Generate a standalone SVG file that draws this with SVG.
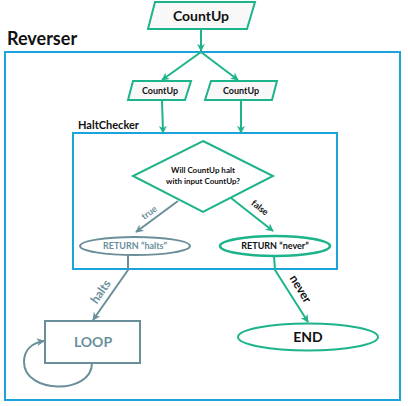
<svg xmlns="http://www.w3.org/2000/svg" width="408" height="406" viewBox="0 0 408 406">
<style>
text{font-family:Lato,"Open Sans","Liberation Sans",sans-serif;}
.box{fill:none;stroke:#1ba3dc;stroke-width:2;}
.para{fill:#f8f8f8;stroke:#1db38b;stroke-width:2;}
.g{fill:none;stroke:#1db38b;stroke-width:2;}
.s{fill:none;stroke:#6a8f9b;stroke-width:2;}
.lbl{font-weight:bold;fill:#111;}
</style>
<defs>
<marker id="as" viewBox="0 0 10 10" refX="9" refY="5" markerWidth="8" markerHeight="8" orient="auto" markerUnits="userSpaceOnUse">
<path d="M0,0 L10,5 L0,10 L3,5 z" fill="#6a8f9b"/>
</marker>
<marker id="agm" viewBox="0 0 10 10" refX="9" refY="5" markerWidth="8" markerHeight="8" orient="auto" markerUnits="userSpaceOnUse">
<path d="M0,0 L10,5 L0,10 L3,5 z" fill="#1db38b"/>
</marker>
</defs>
<g id="reverser">
<rect class="box" x="5" y="52" width="395" height="348"/>
<text x="7" y="45" font-size="18" class="lbl">Reverser</text>
</g>
<g id="haltchecker">
<rect class="box" x="73" y="133" width="264" height="136"/>
<text x="78" y="129" font-size="11" class="lbl">HaltChecker</text>
</g>
<g id="input">
<polygon class="para" points="155,2 255,2 247,29 148,29"/>
<text x="201" y="21" font-size="14" class="lbl" text-anchor="middle">CountUp</text>
</g>
<g id="countup1">
<polygon class="para" points="133,81 191,81 185,100 128,100"/>
<text x="160" y="94" font-size="9" class="lbl" text-anchor="middle">CountUp</text>
</g>
<g id="countup2">
<polygon class="para" points="211,81 277,81 272,100 205,100"/>
<text x="241" y="94" font-size="9" class="lbl" text-anchor="middle">CountUp</text>
</g>
<g id="decision">
<polygon fill="#fff" stroke="#1db38b" stroke-width="2" points="203,141 273,176 203,212 133,176"/>
<text x="203" y="173" font-size="8" class="lbl" text-anchor="middle">Will CountUp halt</text>
<text x="203" y="184" font-size="8" class="lbl" text-anchor="middle">with input CountUp?</text>
</g>
<g id="halts">
<ellipse cx="135" cy="246" rx="55" ry="9" fill="#fff" stroke="#6a8f9b" stroke-width="2"/>
<text x="135" y="249" font-size="9" font-weight="bold" fill="#6a8f9b" text-anchor="middle">RETURN “halts”</text>
</g>
<g id="never">
<ellipse cx="275" cy="246" rx="55" ry="10" fill="#fff" stroke="#1db38b" stroke-width="2.5"/>
<text x="275" y="249" font-size="9" class="lbl" text-anchor="middle">RETURN “never”</text>
</g>
<g id="loop">
<rect x="45" y="321" width="95" height="42" fill="#fff" stroke="#6a8f9b" stroke-width="2"/>
<text x="93" y="347" font-size="14" font-weight="bold" fill="#6a8f9b" text-anchor="middle">LOOP</text>
</g>
<g id="end">
<ellipse cx="308" cy="337" rx="70" ry="13.5" fill="#fff" stroke="#1db38b" stroke-width="2"/>
<text x="308" y="342" font-size="14" class="lbl" text-anchor="middle">END</text>
</g>
<g id="connectors">
<path class="g" d="M201,29 L201,51" marker-end="url(#agm)"/>
<path class="g" d="M201,52 L162,80" marker-end="url(#agm)"/>
<path class="g" d="M201,52 L238,80" marker-end="url(#agm)"/>
<path class="g" d="M162,100 L163,133" marker-end="url(#agm)"/>
<path class="g" d="M241,100 L241,133" marker-end="url(#agm)"/>
<path class="s" d="M178,201 L136,232" marker-end="url(#as)"/>
<text transform="translate(151,215) rotate(-36)" font-size="9" font-weight="bold" fill="#6a8f9b" text-anchor="middle">true</text>
<path class="g" d="M231,198 L273,231" marker-end="url(#agm)"/>
<text transform="translate(258,210) rotate(38)" font-size="9" class="lbl" text-anchor="middle">false</text>
<path class="s" d="M128,255 L128,270 L93,320" marker-end="url(#as)"/>
<text transform="translate(104,294) rotate(-55)" font-size="12" font-weight="bold" fill="#6a8f9b" text-anchor="middle">halts</text>
<path class="g" d="M274,256 L275,270 L308,322" marker-end="url(#agm)"/>
<text transform="translate(297,291) rotate(59)" font-size="12" class="lbl" text-anchor="middle">never</text>
<path class="s" d="M92,363 C92,395 24,394 24,362 C24,350 32,343 44,341" marker-end="url(#as)"/>
</g>
</svg>
